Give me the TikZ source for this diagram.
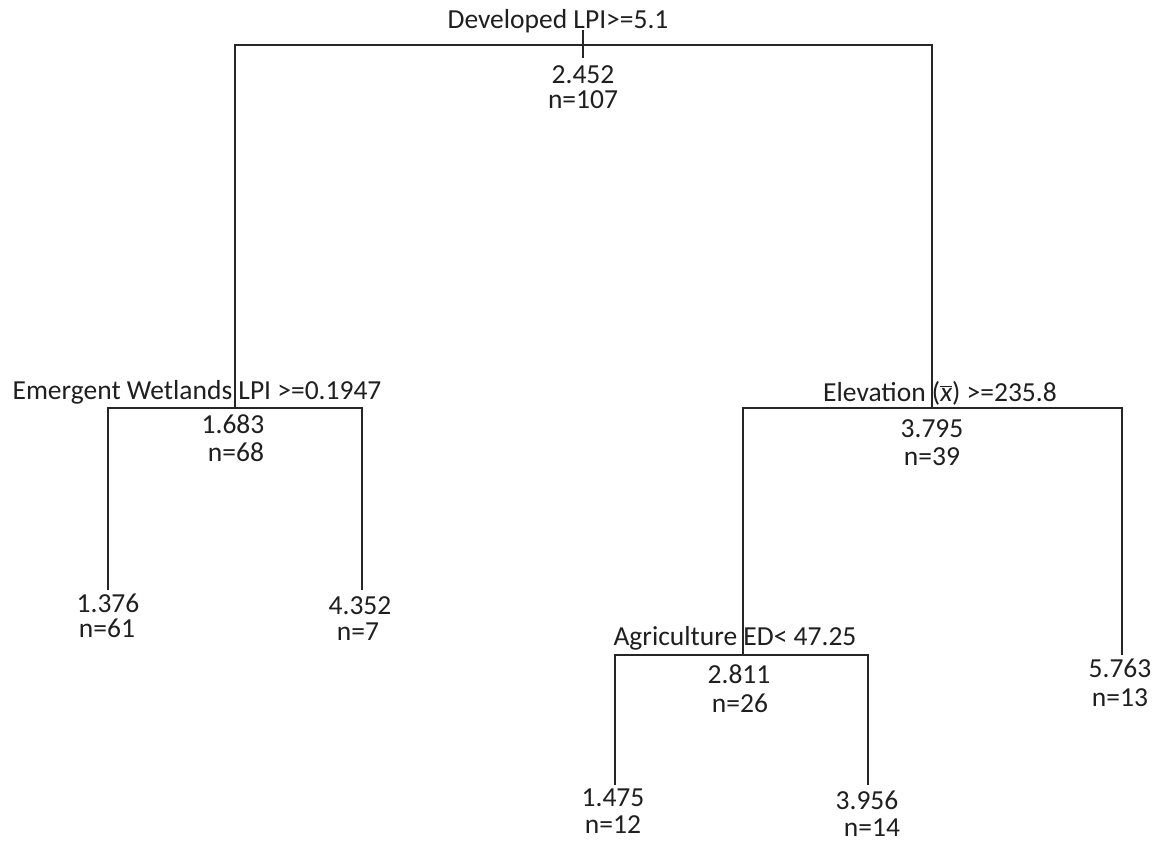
\documentclass[tikz,border=0pt]{standalone}
\usepackage{fontspec}
\setmainfont{Carlito}
\newcommand{\xbarit}{\ensuremath{\overline{\mbox{\itshape x}}}}
\begin{document}
\begin{tikzpicture}[x=1pt,y=-1pt,
  lbl/.style={anchor=base,inner sep=0pt,font=\fontsize{27.5}{27.5}\selectfont,text=black!88},
  edge/.style={draw=black!85,line width=1.4pt}]
\useasboundingbox (0,0) rectangle (1163,841);
% split labels
\node[lbl] (t0) at (558,28) {Developed LPI>=5.1};
\node[lbl] (v0) at (583,83) {2.452};
\node[lbl] (n0) at (583,108) {n=107};
\node[lbl] (t1) at (197,399) {Emergent Wetlands LPI >=0.1947};
\node[lbl] (v1) at (233,433) {1.683};
\node[lbl] (n1) at (236,461) {n=68};
\node[lbl] (t2) at (940,401) {Elevation (\xbarit) >=235.8};
\node[lbl] (v2) at (932,437) {3.795};
\node[lbl] (n2) at (932,465) {n=39};
\node[lbl] (t3) at (735,645) {Agriculture ED< 47.25};
\node[lbl] (v3) at (739,683) {2.811};
\node[lbl] (n3) at (740,712) {n=26};
% leaves
\node[lbl] (v4) at (108,612) {1.376};
\node[lbl] (n4) at (107,637) {n=61};
\node[lbl] (v5) at (360,614) {4.352};
\node[lbl] (n5) at (358,640) {n=7};
\node[lbl] (v6) at (613,806) {1.475};
\node[lbl] (n6) at (613,833) {n=12};
\node[lbl] (v7) at (867,809) {3.956};
\node[lbl] (n7) at (872,836) {n=14};
\node[lbl] (v8) at (1120,677) {5.763};
\node[lbl] (n8) at (1120,706) {n=13};
% branch points
\coordinate (r0) at (583,30);
\coordinate (a0) at (583,58);
\coordinate (L0) at (235,45);
\coordinate (R0) at (932,45);
\coordinate (L1) at (235,408);
\coordinate (R1) at (932,408);
\coordinate (LL1) at (108,408);
\coordinate (LR1) at (362,408);
\coordinate (RL1) at (743,408);
\coordinate (RR1) at (1122,408);
\coordinate (LLe) at (108,590);
\coordinate (LRe) at (362,590);
\coordinate (RRe) at (1122,655);
\coordinate (RL2) at (743,655);
\coordinate (A1) at (615,655);
\coordinate (A2) at (868,655);
\coordinate (A1e) at (615,785);
\coordinate (A2e) at (868,785);
% connectors
\draw[edge] (r0) -- (a0);
\draw[edge] (L1) -- (L0) -- (R0) -- (R1);
\draw[edge] (LLe) -- (LL1) -- (LR1) -- (LRe);
\draw[edge] (RRe) -- (RR1) -- (RL1) -- (RL2);
\draw[edge] (A1e) -- (A1) -- (A2) -- (A2e);
\end{tikzpicture}
\end{document}
